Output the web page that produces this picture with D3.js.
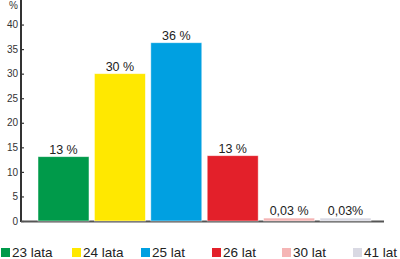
<!DOCTYPE html>
<html>
<head>
<meta charset="utf-8">
<script src="https://cdn.jsdelivr.net/npm/d3@7"></script>
<style>
  body { margin: 0; background: #fff; }
  svg { font-family: "Liberation Sans", Arial, sans-serif; }
</style>
</head>
<body>
<div id="chart"></div>
<script>
// data
const categories = ["23 lata", "24 lata", "25 lat", "26 lat", "30 lat", "41 lat"];
const values = [13.1, 30, 36.3, 13.3, 0.6, 0.6];
const valueLabels = ["13 %", "30 %", "36 %", "13 %", "0,03 %", "0,03%"];
const colors = ["#009a4a", "#ffe800", "#00a0e1", "#e3202a", "#f5b5b5", "#d9d9e3"];
const yTicks = [0, 5, 10, 15, 20, 25, 30, 35, 40];

const W = 400, H = 259;
const margin = {top: 0, left: 21, right: 16, bottom: 38};
const innerW = W - margin.left - margin.right;
const innerH = H - margin.top - margin.bottom;

const svg = d3.select("#chart").append("svg")
  .attr("width", W).attr("height", H);

const g = svg.append("g")
  .attr("transform", "translate(" + margin.left + "," + margin.top + ")");

const x = d3.scaleBand()
  .domain(categories)
  .range([17, 350])
  .paddingInner(0.096)
  .paddingOuter(0);

const y = d3.scaleLinear()
  .domain([0, 45])
  .range([innerH, 0]);

// y axis, ticks pointing inward
const yAxis = g.append("g")
  .call(d3.axisRight(y).tickValues(yTicks).tickSize(3).tickFormat(d3.format("d")));
yAxis.select(".domain").remove();
yAxis.selectAll(".tick line").attr("stroke", "#333").attr("stroke-width", 1.2);
yAxis.selectAll(".tick text")
  .attr("x", -3).attr("text-anchor", "end")
  .attr("fill", "#333").style("font-size", "10px");

g.append("line")
  .attr("x1", 0).attr("x2", 0)
  .attr("y1", y(45)).attr("y2", y(0) + 1)
  .attr("stroke", "#333").attr("stroke-width", 2);

g.append("line")
  .attr("x1", 0).attr("x2", innerW + 0)
  .attr("y1", y(0) + 0.5).attr("y2", y(0) + 0.5)
  .attr("stroke", "#555").attr("stroke-width", 2);

g.append("text")
  .attr("x", -3).attr("y", 9)
  .attr("text-anchor", "end")
  .attr("fill", "#333").style("font-size", "10px")
  .text("%");

// bars
g.selectAll("rect.bar").data(values).enter().append("rect")
  .attr("class", "bar")
  .attr("x", (d, i) => x(categories[i]))
  .attr("width", x.bandwidth())
  .attr("y", d => y(d))
  .attr("height", d => y(0) - y(d))
  .attr("fill", (d, i) => colors[i])
  .attr("stroke", "#fff").attr("stroke-opacity", 0.6).attr("stroke-width", 0.8);

g.selectAll("text.val").data(values).enter().append("text")
  .attr("class", "val")
  .attr("x", (d, i) => x(categories[i]) + x.bandwidth() / 2)
  .attr("y", d => y(d) - 3)
  .attr("text-anchor", "middle")
  .attr("fill", "#222")
  .style("font-size", "12.5px")
  .text((d, i) => valueLabels[i]);

// legend
const legendX = [1, 72, 141, 212, 282, 353];
const legend = svg.append("g").selectAll("g").data(categories).enter().append("g")
  .attr("transform", (d, i) => "translate(" + legendX[i] + ",248)");
legend.append("rect")
  .attr("width", 9).attr("height", 9)
  .attr("fill", (d, i) => colors[i]);
legend.append("text")
  .attr("x", 11).attr("y", 9)
  .attr("fill", "#222").style("font-size", "13.5px")
  .text(d => d);
</script>
</body>
</html>
